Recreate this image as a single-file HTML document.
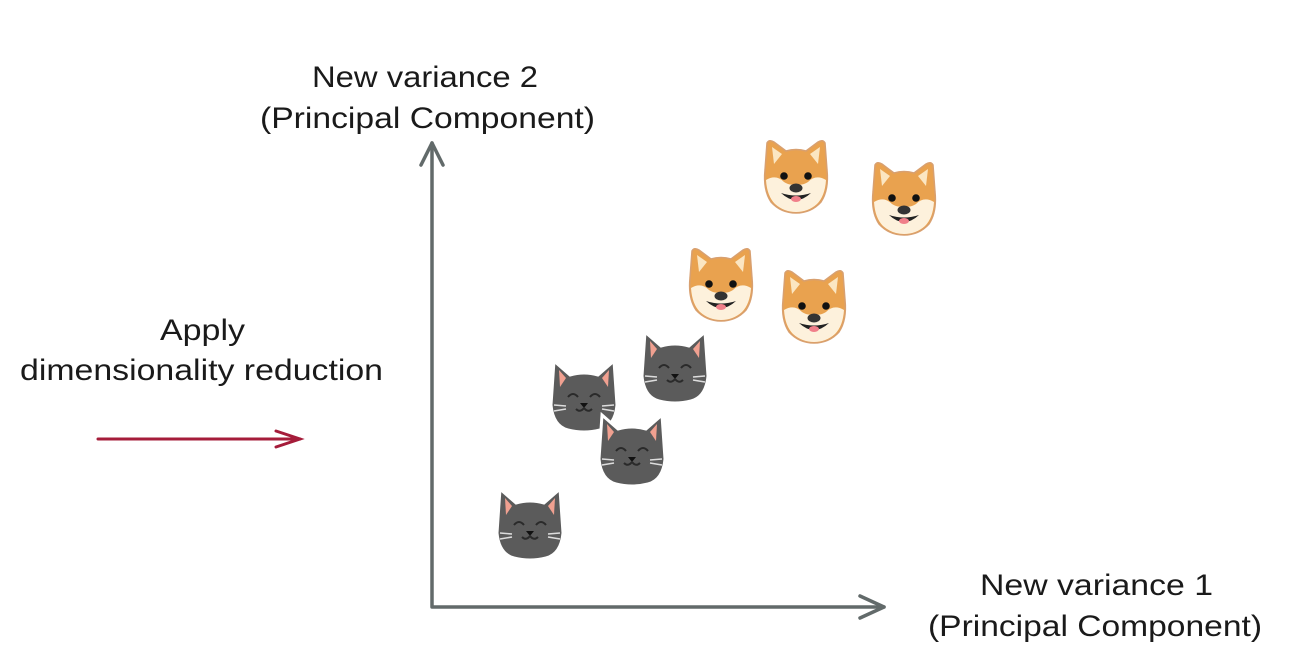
<!DOCTYPE html>
<html><head><meta charset="utf-8"><style>
html,body{margin:0;padding:0;background:#fff;width:1296px;height:672px;overflow:hidden}
svg{display:block}
text{font-family:"Liberation Sans",sans-serif;font-size:30px;fill:#1a1a1a}
</style></head><body>
<svg width="1296" height="672" viewBox="0 0 1296 672">
<defs>
<g id="dog">
 <path d="M3 30 L5 3 Q7 -1 12 2 L24 11 Q34 8 44 11 L56 2 Q61 -1 63 3 L65 30 Q67 50 59 62 Q49 73 34 73 Q19 73 9 62 Q1 50 3 30Z" fill="#e9a24f" stroke="#d8a070" stroke-width="1.5"/>
 <path d="M10 7 L20 14 L12 24Z" fill="#fbe6c2"/>
 <path d="M58 7 L48 14 L56 24Z" fill="#fbe6c2"/>
 <path d="M4 40 Q14 34 22 42 Q28 46 34 44 Q40 46 46 42 Q54 34 64 40 Q63 56 55 64 Q46 72 34 72 Q22 72 13 64 Q5 56 4 40Z" fill="#fdf1dc"/>
 <circle cx="22" cy="36" r="3.8" fill="#111"/><circle cx="46" cy="36" r="3.8" fill="#111"/>
 <ellipse cx="34" cy="48" rx="6.5" ry="4.5" fill="#333"/>
 <path d="M19 53 Q34 67 49 53 Q34 58 19 53Z" fill="#222"/>
 <ellipse cx="34" cy="59" rx="5" ry="3" fill="#f07f8a"/>
</g>
<g id="cat">
 <path d="M2 2 L18 16 Q32 12 46 16 L62 2 L65 46 Q63 67 48 71 Q32 75 16 71 Q1 67 -1 46Z" fill="#5b5b5b" stroke="#fff" stroke-width="3"/>
 <path d="M7 11 L14 19 L8 28Z" fill="#f0a090"/>
 <path d="M57 11 L50 19 L56 28Z" fill="#f0a090"/>
 <path d="M16 38 Q21 32 26 38 M38 38 Q43 32 48 38" stroke="#2a2a2a" stroke-width="2" fill="none"/>
 <path d="M28 44 L36 44 L32 49Z" fill="#111"/>
 <path d="M24 50 Q28 54 32 49 Q36 54 40 50" stroke="#2a2a2a" stroke-width="2" fill="none"/>
 <path d="M2 46 L14 47 M2 52 L14 50 M62 46 L50 47 M62 52 L50 50" stroke="#ddd" stroke-width="1.6"/>
</g>
</defs>
<text x="312" y="87" textLength="226" lengthAdjust="spacingAndGlyphs">New variance 2</text>
<text x="260" y="128" textLength="335" lengthAdjust="spacingAndGlyphs">(Principal Component)</text>
<text x="160" y="340" textLength="85" lengthAdjust="spacingAndGlyphs">Apply</text>
<text x="20" y="380" textLength="363" lengthAdjust="spacingAndGlyphs">dimensionality reduction</text>
<text x="980" y="595" textLength="233" lengthAdjust="spacingAndGlyphs">New variance 1</text>
<text x="928" y="636" textLength="334" lengthAdjust="spacingAndGlyphs">(Principal Component)</text>
<g stroke="#626a6a" stroke-width="3.5" fill="none" stroke-linecap="round" stroke-linejoin="round">
 <path d="M432 143 L432 607 L884 607"/>
 <path d="M421 165 L432 143 L443 165"/>
 <path d="M860 596 L884 607 L860 618"/>
</g>
<g stroke="#a51c3a" stroke-width="3" fill="none" stroke-linecap="round">
 <path d="M98 439 L300 439"/>
 <path d="M276 431 L300 439 L276 447"/>
</g>
<use href="#dog" x="762" y="140"/>
<use href="#dog" x="870" y="162"/>
<use href="#dog" x="687" y="248"/>
<use href="#dog" x="780" y="270"/>
<use href="#cat" x="643" y="330"/>
<use href="#cat" x="552" y="359"/>
<use href="#cat" x="600" y="413"/>
<use href="#cat" x="498" y="487"/>
</svg>
</body></html>
